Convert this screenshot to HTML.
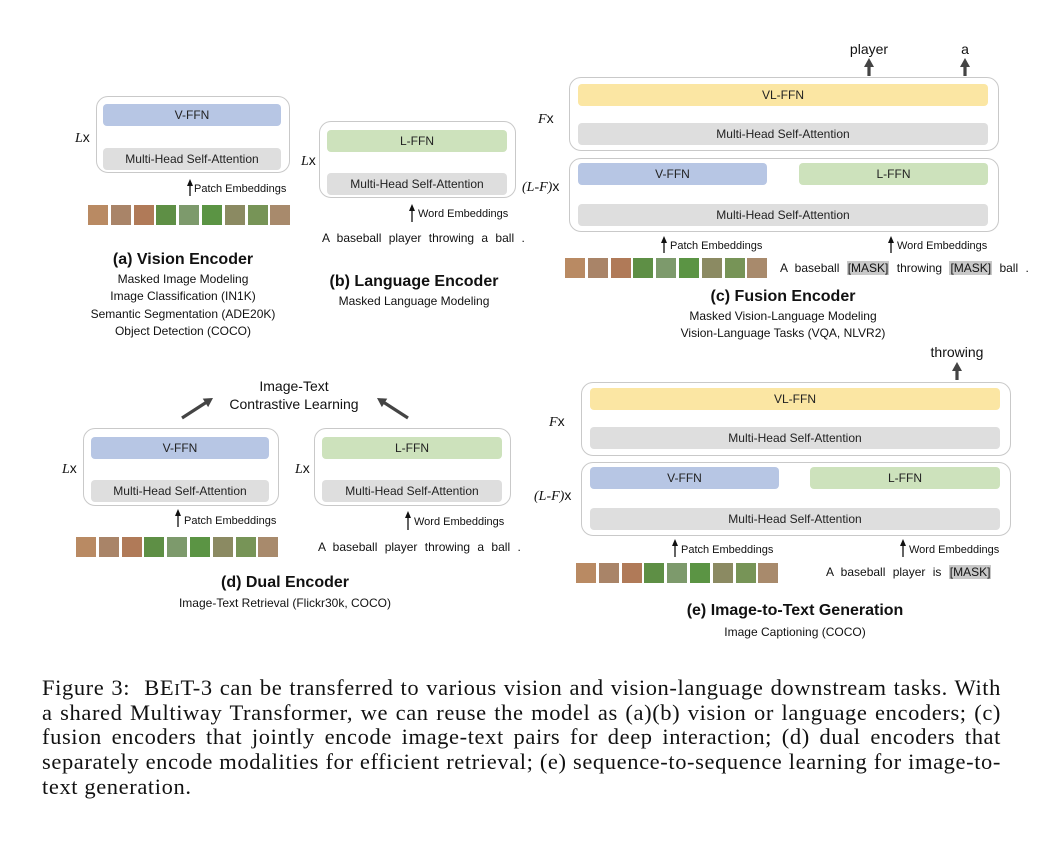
<!DOCTYPE html>
<html><head><meta charset="utf-8">
<style>
body{margin:0;background:#fff;}
#root{position:relative;width:1054px;height:848px;overflow:hidden;font-family:"Liberation Sans",sans-serif;color:#111;}
.box{position:absolute;border:1.5px solid #c9c9c9;border-radius:12px;box-sizing:border-box;background:#fff;}
.bar{position:absolute;border-radius:4px;display:flex;align-items:center;justify-content:center;font-size:12px;color:#222;}
.g{background:#dedede}.b{background:#b7c6e4}.l{background:#cde2bc}.y{background:#fbe6a3}
.t{position:absolute;white-space:nowrap;line-height:1;}
.c{transform:translateX(-50%);text-align:center;}
.it{font-family:"Liberation Serif",serif;font-style:italic;}
.ttl{font-weight:bold;font-size:16px;}
.sub{font-size:12px;line-height:17.3px;}
.sm{font-size:11px;}
.sent{font-size:12px;word-spacing:4px;}
.mask{background:#c8c8c8;padding:0 1px;}
.cap{position:absolute;left:42px;width:959px;font-family:"Liberation Serif",serif;font-size:22.5px;letter-spacing:0.6px;line-height:24.6px;white-space:nowrap;}
.j{text-align:justify;text-align-last:justify;}
.patch{position:absolute;height:20px;width:20px;}
</style></head>
<body>
<div id="root">
<svg width="1054" height="848" style="position:absolute;left:0;top:0">
<defs>
<marker id="ah" markerWidth="7" markerHeight="6" refX="5" refY="3" orient="auto" markerUnits="userSpaceOnUse"><path d="M0,0 L7,3 L0,6 Z" fill="#111"/></marker>
</defs>
<g stroke="#111" stroke-width="1.3" fill="none" id="thin"></g>
<g fill="#444" id="thick"></g>
</svg>

<!-- (a) -->
<div class="box" style="left:96px;top:96px;width:194px;height:77px"></div>
<div class="bar b" style="left:103px;top:104px;width:178px;height:22px">V-FFN</div>
<div class="bar g" style="left:103px;top:148px;width:178px;height:22px">Multi-Head Self-Attention</div>
<div class="t" style="left:75px;top:130px;font-size:14px"><span class="it">L</span>x</div>
<div class="t sm" style="left:194px;top:184px">Patch Embeddings</div>
<div class="t ttl c" style="left:183px;top:252px">(a) Vision Encoder</div>
<div class="t sub c" style="left:183px;top:271px">Masked Image Modeling<br>Image Classification (IN1K)<br>Semantic Segmentation (ADE20K)<br>Object Detection (COCO)</div>

<!-- (b) -->
<div class="box" style="left:319px;top:121px;width:197px;height:77px"></div>
<div class="bar l" style="left:327px;top:130px;width:180px;height:22px">L-FFN</div>
<div class="bar g" style="left:327px;top:173px;width:180px;height:22px">Multi-Head Self-Attention</div>
<div class="t" style="left:301px;top:153px;font-size:14px"><span class="it">L</span>x</div>
<div class="t sm" style="left:418px;top:209px">Word Embeddings</div>
<div class="t sent" style="left:322px;top:232px">A baseball player throwing a ball .</div>
<div class="t ttl c" style="left:414px;top:274px">(b) Language Encoder</div>
<div class="t sub c" style="left:414px;top:293px">Masked Language Modeling</div>

<!-- (c) -->
<div class="t c" style="left:869px;top:42px;font-size:14px">player</div>
<div class="t c" style="left:965px;top:42px;font-size:14px">a</div>
<div class="box" style="left:569px;top:77px;width:430px;height:74px"></div>
<div class="bar y" style="left:578px;top:84px;width:410px;height:22px">VL-FFN</div>
<div class="bar g" style="left:578px;top:123px;width:410px;height:22px">Multi-Head Self-Attention</div>
<div class="t" style="left:538px;top:111px;font-size:14px"><span class="it">F</span>x</div>
<div class="box" style="left:569px;top:158px;width:430px;height:74px"></div>
<div class="bar b" style="left:578px;top:163px;width:189px;height:22px">V-FFN</div>
<div class="bar l" style="left:799px;top:163px;width:189px;height:22px">L-FFN</div>
<div class="bar g" style="left:578px;top:204px;width:410px;height:22px">Multi-Head Self-Attention</div>
<div class="t" style="left:522px;top:179px;font-size:14px"><span class="it">(L-F)</span>x</div>
<div class="t sm" style="left:670px;top:241px">Patch Embeddings</div>
<div class="t sm" style="left:897px;top:241px">Word Embeddings</div>
<div class="t sent" style="left:780px;top:262px">A baseball <span class="mask">[MASK]</span> throwing <span class="mask">[MASK]</span> ball .</div>
<div class="t ttl c" style="left:783px;top:289px">(c) Fusion Encoder</div>
<div class="t sub c" style="left:783px;top:308px">Masked Vision-Language Modeling<br>Vision-Language Tasks (VQA, NLVR2)</div>

<!-- (d) -->
<div class="t c" style="left:294px;top:377px;font-size:14px;line-height:18px">Image-Text<br>Contrastive Learning</div>
<div class="box" style="left:83px;top:428px;width:196px;height:78px"></div>
<div class="bar b" style="left:91px;top:437px;width:178px;height:22px">V-FFN</div>
<div class="bar g" style="left:91px;top:480px;width:178px;height:22px">Multi-Head Self-Attention</div>
<div class="t" style="left:62px;top:461px;font-size:14px"><span class="it">L</span>x</div>
<div class="box" style="left:314px;top:428px;width:197px;height:78px"></div>
<div class="bar l" style="left:322px;top:437px;width:180px;height:22px">L-FFN</div>
<div class="bar g" style="left:322px;top:480px;width:180px;height:22px">Multi-Head Self-Attention</div>
<div class="t" style="left:295px;top:461px;font-size:14px"><span class="it">L</span>x</div>
<div class="t sm" style="left:184px;top:516px">Patch Embeddings</div>
<div class="t sm" style="left:414px;top:517px">Word Embeddings</div>
<div class="t sent" style="left:318px;top:541px">A baseball player throwing a ball .</div>
<div class="t ttl c" style="left:285px;top:575px">(d) Dual Encoder</div>
<div class="t sub c" style="left:285px;top:595px">Image-Text Retrieval (Flickr30k, COCO)</div>

<!-- (e) -->
<div class="t c" style="left:957px;top:345px;font-size:14px">throwing</div>
<div class="box" style="left:581px;top:382px;width:430px;height:74px"></div>
<div class="bar y" style="left:590px;top:388px;width:410px;height:22px">VL-FFN</div>
<div class="bar g" style="left:590px;top:427px;width:410px;height:22px">Multi-Head Self-Attention</div>
<div class="t" style="left:549px;top:414px;font-size:14px"><span class="it">F</span>x</div>
<div class="box" style="left:581px;top:462px;width:430px;height:74px"></div>
<div class="bar b" style="left:590px;top:467px;width:189px;height:22px">V-FFN</div>
<div class="bar l" style="left:810px;top:467px;width:190px;height:22px">L-FFN</div>
<div class="bar g" style="left:590px;top:508px;width:410px;height:22px">Multi-Head Self-Attention</div>
<div class="t" style="left:534px;top:488px;font-size:14px"><span class="it">(L-F)</span>x</div>
<div class="t sm" style="left:681px;top:545px">Patch Embeddings</div>
<div class="t sm" style="left:909px;top:545px">Word Embeddings</div>
<div class="t sent" style="left:826px;top:566px">A baseball player is <span class="mask">[MASK]</span></div>
<div class="t ttl c" style="left:795px;top:603px">(e) Image-to-Text Generation</div>
<div class="t sub c" style="left:795px;top:624px">Image Captioning (COCO)</div>

<!-- caption -->
<div class="cap j" style="top:676px">Figure 3: &nbsp;BE<span style="font-size:17px">I</span>T-3 can be transferred to various vision and vision-language downstream tasks. With</div>
<div class="cap j" style="top:701px">a shared Multiway Transformer, we can reuse the model as (a)(b) vision or language encoders; (c)</div>
<div class="cap j" style="top:725px">fusion encoders that jointly encode image-text pairs for deep interaction; (d) dual encoders that</div>
<div class="cap j" style="top:750px">separately encode modalities for efficient retrieval; (e) sequence-to-sequence learning for image-to-</div>
<div class="cap" style="top:775px">text generation.</div>
</div>
<script>
var root=document.getElementById('root');
var NS='http://www.w3.org/2000/svg';
var patchStarts=[[88,205],[565,258],[76,537],[576,563]];
var patchColors=['#b98a63','#a98468','#b07a58','#5e8f45','#7d9a6c','#5b9444','#8b8a62','#779457','#a88a6c'];
patchStarts.forEach(function(p){
  patchColors.forEach(function(col,i){
    var el=document.createElement('div');
    el.className='patch';
    el.style.left=(p[0]+i*22.8)+'px';el.style.top=p[1]+'px';el.style.background=col;
    
    
    root.appendChild(el);
  });
});
var thin=[[190,144,128],[190,196,180],[412,222,205],[417,169,154],
[663,120,109],[890,120,109],[664,200,188],[891,200,188],[664,253,237],[891,253,237],
[180,476,462],[178,527,510],[410,476,462],[408,530,512],
[674,424,412],[902,424,412],[675,504,491],[903,504,491],[675,557,540],[903,557,540]];
var g=document.getElementById('thin');
thin.forEach(function(a){
  var l=document.createElementNS(NS,'line');
  l.setAttribute('x1',a[0]);l.setAttribute('x2',a[0]);l.setAttribute('y1',a[1]);l.setAttribute('y2',a[2]+1);
  l.setAttribute('marker-end','url(#ah)');
  
  
  g.appendChild(l);
});
var tg=document.getElementById('thick');
function thick(x1,y1,x2,y2){
  var dx=x2-x1,dy=y2-y1,L=Math.hypot(dx,dy),ux=dx/L,uy=dy/L,px=-uy,py=ux,h=9,w=1.6,hw=5;
  var bx=x2-ux*h,by=y2-uy*h;
  var pts=[[x1+px*w,y1+py*w],[bx+px*w,by+py*w],[bx+px*hw,by+py*hw],[x2,y2],[bx-px*hw,by-py*hw],[bx-px*w,by-py*w],[x1-px*w,y1-py*w]];
  var p=document.createElementNS(NS,'polygon');
  p.setAttribute('points',pts.map(function(q){return q.join(',')}).join(' '));
  
  
  tg.appendChild(p);
}
thick(869,76,869,58);thick(965,76,965,58);thick(957,380,957,362);
thick(182,418,213,398);thick(408,418,377,398);
</script>
</body></html>
